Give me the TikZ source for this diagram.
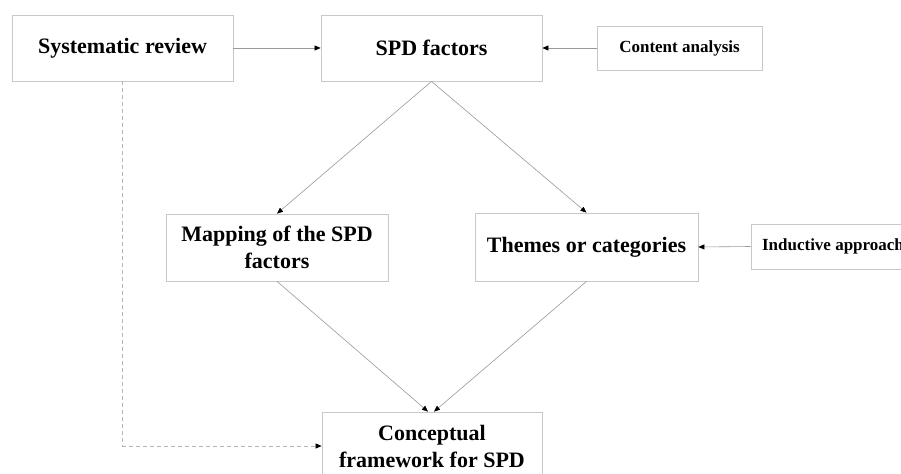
\documentclass[tikz,border=0pt]{standalone}
\usepackage{fontspec}
\setmainfont{Liberation Serif}
\usetikzlibrary{arrows.meta,calc}
\definecolor{boxgray}{HTML}{C8C8C8}
\definecolor{linegray}{HTML}{9A9A9A}
\begin{document}
\begin{tikzpicture}[x=1bp,y=-1bp,
  box/.style={draw=boxgray,line width=0.8bp,fill=white,rectangle,inner sep=0pt,align=center,font=\bfseries\fontsize{22bp}{27bp}\selectfont},
  smallbox/.style={box,font=\bfseries\fontsize{17bp}{20bp}\selectfont},
  conn/.style={draw=linegray,line width=0.6bp,-{Triangle[length=6bp,width=5bp,color=black]}},
  dconn/.style={conn,draw=boxgray!90!black,dash pattern=on 4bp off 3bp}]
\clip (0,0) rectangle (901,474);
\fill[white] (0,0) rectangle (901,474);
\node[box,minimum width=221bp,minimum height=66bp] (sys) at (122.5,48) {\raisebox{-2bp}{Systematic review}};
\node[box,minimum width=221bp,minimum height=66bp] (spd) at (431.5,48) {\raisebox{-2bp}{SPD factors}};
\node[smallbox,minimum width=165bp,minimum height=44bp] (ca) at (679.5,48) {\raisebox{-1bp}{Content analysis}};
\node[box,minimum width=222bp,minimum height=67bp] (map) at (277,247.5) {Mapping of the SPD\\factors};
\node[box,minimum width=223bp,minimum height=68bp] (thm) at (586.5,247) {Themes or categories};
\node[smallbox,minimum width=164bp,minimum height=45bp] (ind) at (833,246.5) {Inductive approach};
\node[box,minimum width=220bp,minimum height=68bp] (conc) at (432,446) {Conceptual\\framework for SPD};
\draw[conn] (sys.east) -- (spd.west);
\draw[conn] (ca.west) -- (spd.east);
\draw[conn] (spd.south) -- (map.north);
\draw[conn] (spd.south) -- (thm.north);
\draw[conn] (map.south) -- ([xshift=-4bp]conc.north);
\draw[conn] (thm.south) -- ([xshift=2bp]conc.north);
\draw[conn] (ind.west) -- (thm.east);
\draw[dconn] (sys.south) -- (sys.south |- conc.west) -- (conc.west);
\end{tikzpicture}
\end{document}
